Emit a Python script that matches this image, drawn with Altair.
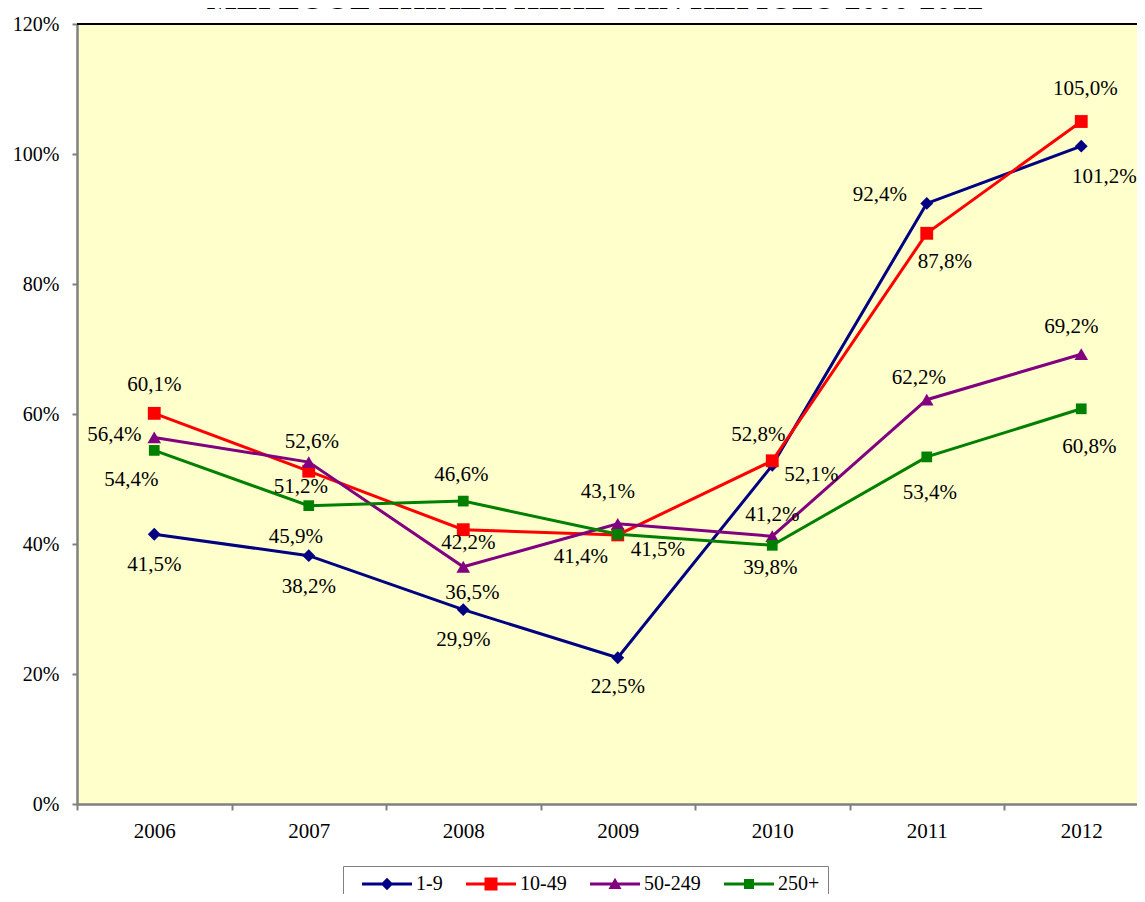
import altair as alt
import pandas as pd

# ---------------- data ----------------
YEARS = [2006, 2007, 2008, 2009, 2010, 2011, 2012]
SERIES = ["1-9", "10-49", "50-249", "250+"]
S_1_9 = [41.5, 38.2, 29.9, 22.5, 52.1, 92.4, 101.2]
S_10_49 = [60.1, 51.2, 42.2, 41.4, 52.8, 87.8, 105.0]
S_50_249 = [56.4, 52.6, 36.5, 43.1, 41.2, 62.2, 69.2]
S_250 = [54.4, 45.9, 46.6, 41.5, 39.8, 53.4, 60.8]
Y_TICKS = [0, 20, 40, 60, 80, 100, 120]
TITLE = "ΜΕΓΕΘΟΣ ΕΠΙΧΕΙΡΗΣΗΣ ΤΗΝ ΠΕΡΙΟΔΟ 2006-2012"

# ---------------- style ----------------
FONT = "Liberation Serif"
COLORS = ["#000080", "#FF0000", "#800080", "#008000"]
MARKERS = [("diamond", 165), ("square", 165), ("triangle-up", 185), ("square", 115)]
# legend symbols: a line with the marker on it (symbol box is 20px, path drawn in units of 10px)
LEGEND_PATHS = [
    "M0.1,-0.15H5.1V0.15H0.1Z M2.6,-0.62L3.22,0L2.6,0.62L1.98,0Z",
    "M0.1,-0.15H5.1V0.15H0.1Z M1.95,-0.65H3.25V0.65H1.95Z",
    "M0.1,-0.15H5.1V0.15H0.1Z M2.6,-0.62L3.25,0.5H1.95Z",
    "M0.1,-0.15H5.1V0.15H0.1Z M2.1,-0.5H3.1V0.5H2.1Z",
]
# data-label placement (pixel offsets from each point)
LABEL_OFFSETS = {
    "1-9": [(0, 31), (0, 31), (0, 30), (0, 29), (39, 10), (-47, -8), (23, 31)],
    "10-49": [(0, -28), (-8, 16), (5, 13), (-37, 22), (-14, -26), (18, 29), (4, -33)],
    "50-249": [(-40, -2), (3, -20), (9, 26), (-10, -32), (0, -21), (-8, -22), (-10, -27)],
    "250+": [(-23, 30), (-13, 31), (-2, -26), (40, 16), (-2, 23), (3, 36), (8, 38)],
}

W, H = 1060, 780
BAND = 154.5

values = {"1-9": S_1_9, "10-49": S_10_49, "50-249": S_50_249, "250+": S_250}
rows = []
for s in SERIES:
    for yr, v in zip(YEARS, values[s]):
        rows.append({"series": s, "year": yr, "value": v,
                     "label": f"{v:.1f}".replace(".", ",") + "%"})
df = pd.DataFrame(rows)

x_axis = alt.Axis(
    values=[YEARS[0] - 0.5 + i for i in range(len(YEARS))],
    labelExpr="format(datum.value + 0.5, 'd')",
    labelOffset=BAND / 2, labelFlush=False, labelOverlap=False, labelBound=False,
    grid=False, domainColor="#808080", domainWidth=2.5, tickColor="#808080",
    tickWidth=2, tickSize=6, labelPadding=10, labelFont=FONT, labelFontSize=21,
    labelColor="black", title=None,
)
y_axis = alt.Axis(
    values=Y_TICKS, labelExpr="datum.value + '%'", grid=False,
    domainColor="#808080", domainWidth=2.5, tickColor="#808080", tickWidth=2,
    tickSize=5, labelPadding=13, labelFont=FONT, labelFontSize=20,
    labelColor="black", title=None,
)
X = alt.X("year:Q", scale=alt.Scale(domain=[YEARS[0] - 0.5, YEARS[0] - 0.5 + W / BAND],
                                     nice=False, zero=False), axis=x_axis)
Y = alt.Y("value:Q", scale=alt.Scale(domain=[0, 120], nice=False), axis=y_axis)

layers = []
for s, c, (shape, size) in zip(SERIES, COLORS, MARKERS):
    sd = alt.Chart(df).transform_filter(alt.datum.series == s)
    layers.append(sd.mark_line(color=c, strokeWidth=3).encode(x=X, y=Y))
    layers.append(sd.mark_point(shape=shape, size=size, filled=True, color=c,
                                opacity=1).encode(x=X, y=Y))

for s in SERIES:
    for yr, (dx, dy) in zip(YEARS, LABEL_OFFSETS[s]):
        layers.append(
            alt.Chart(df)
            .transform_filter((alt.datum.series == s) & (alt.datum.year == yr))
            .mark_text(dx=dx, dy=dy, font=FONT, fontSize=21, color="black",
                       align="center", baseline="middle")
            .encode(x=X, y=Y, text="label:N")
        )

legend = alt.Legend(
    orient="none", legendX=266, legendY=842, direction="horizontal", columns=4,
    title=None, strokeColor="#808080", fillColor="white", padding=8,
    columnPadding=12, symbolSize=400, symbolOpacity=1, symbolStrokeWidth=0,
    labelFont=FONT, labelFontSize=20, labelColor="black", labelOffset=45,
    cornerRadius=0,
)
layers.append(
    alt.Chart(df).mark_point(filled=True, opacity=0).encode(
        x=X, y=Y,
        color=alt.Color("series:N", scale=alt.Scale(domain=SERIES, range=COLORS),
                        legend=legend, sort=SERIES),
        shape=alt.Shape("series:N", scale=alt.Scale(domain=SERIES, range=LEGEND_PATHS),
                        legend=legend, sort=SERIES),
    )
)

# top border of the plot area
layers.append(
    alt.Chart(pd.DataFrame({"b": [0]})).mark_rule(color="black", strokeWidth=2)
    .encode(y=alt.value(0))
)
# title (cut at the top edge as in the reference)
layers.append(
    alt.Chart(pd.DataFrame({"t": [TITLE]}))
    .mark_text(font=FONT, fontSize=32, fontWeight="bold", color="black",
               align="center", baseline="alphabetic")
    .encode(x=alt.value(518), y=alt.value(-15), text="t:N")
)

chart = (
    alt.layer(*layers)
    .properties(width=W, height=H,
                autosize=alt.AutoSizeParams(type="none"),
                padding={"left": 69, "top": 16, "right": 0, "bottom": 90},
                background="white")
    .configure_view(fill="#FFFFCC", stroke=None)
)

chart.save("out.html", embed_options={"renderer": "svg", "actions": False})
